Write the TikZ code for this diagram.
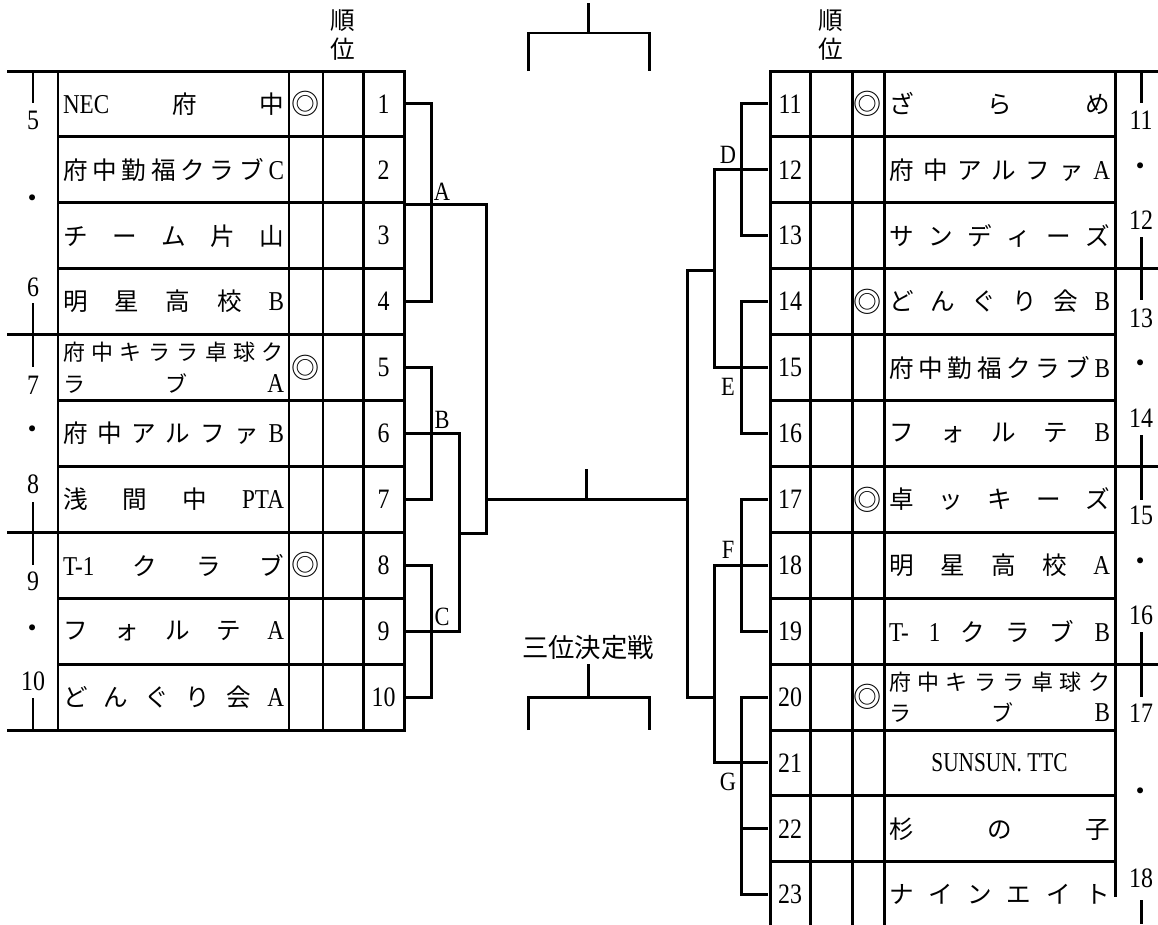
\documentclass[tikz,border=0pt]{standalone}
\usepackage{fontspec}
\setmainfont{Liberation Serif}[FakeStretch=0.85]
\newfontfamily\jp{Noto Sans CJK JP}
\usetikzlibrary{calc}

\newlength\namew
\setlength\namew{4.42cm}
% spread the items of a name evenly over the cell
\newcommand\spread[1]{\hbox to\namew{\foreach[count=\k] \c in {#1}{\ifnum\k>1 \hfill\fi\c}}}
\newcommand\lt[1]{{\rmfamily\fontsize{15.5}{16}\selectfont #1}}
\def\rh{65.9}

\begin{document}
\begin{tikzpicture}[x=0.02cm,y=-0.02cm,line width=1.7pt]
\tikzset{tabline/.style={line cap=rect},
         numcell/.style={inner sep=0,minimum width=41*0.02cm,minimum height=\rh*0.02cm,
                         font=\fontsize{16}{18}\selectfont},
         namecell/.style={inner sep=0,font=\jp\fontsize{14}{16}\selectfont},
         twoline/.style={namecell,align=left,font=\jp\fontsize{12.5}{18}\selectfont},
         markcell/.style={inner sep=0,font=\jp\fontsize{16}{18}\selectfont},
         rank/.style={inner sep=0,font=\fontsize{16}{18}\selectfont},
         grp/.style={inner sep=0,font=\fontsize{15}{16}\selectfont},
         head/.style={inner sep=1.5pt,align=center,font=\jp\fontsize{14}{16.5}\selectfont}}
\useasboundingbox (0,0) rectangle (1158,924);

% left table
\foreach \k/\xs in {0/8,1/58,2/58,3/58,4/8,5/58,6/58,7/8,8/58,9/58,10/8}
  \draw[tabline] (\xs,{71+\k*\rh}) -- (404,{71+\k*\rh});
\foreach \xx in {58,289,323,363,404}
  \draw[tabline] (\xx,71) -- (\xx,730);
\foreach \a/\b in {71/103,303/367,502/565,698/730}
  \draw (33,\a) -- (33,\b);
\foreach \t/\yy [count=\r] in {5/120,{\jp ・}/202,6/287,7/385,{\jp ・}/433,8/484,9/581,{\jp ・}/632,10/681}
  \node[rank] (ll\r) at (33,\yy) {\t};
\node[head] (hl) at (343,35.5) {順\\位};

% right table
\foreach \k/\xe in {0/1158,1/1115,2/1115,3/1158,4/1115,5/1115,6/1158,7/1115,8/1115,9/1158,10/1115,11/1115,12/1115}
  \draw[tabline] (770,{71+\k*\rh}) -- (\xe,{71+\k*\rh});
\foreach \xx in {770,810,852,884}
  \draw[tabline] (\xx,71) -- (\xx,924);
\draw[tabline] (1115,71) -- (1115,895);
\foreach \a/\b in {71/103,237/300,435/500,632/697,900/924}
  \draw (1141,\a) -- (1141,\b);
\foreach \t/\yy [count=\r] in {11/120,{\jp ・}/170,12/220,13/318,{\jp ・}/367,14/418,15/515,{\jp ・}/565,16/615,17/713,{\jp ・}/795,18/878}
  \node[rank] (rl\r) at (1141,\yy) {\t};
\node[head] (hr) at (831,35.5) {順\\位};

% numbers and marks
\foreach \i in {1,...,10}
  \node[numcell] (n\i) at (383.5,{71+(\i-0.5)*\rh}) {\i};
\foreach \i in {11,...,23}
  \node[numcell] (n\i) at (790,{71+(\i-10.5)*\rh}) {\i};
\coordinate (lmark) at (306,0);
\coordinate (rmark) at (868,0);
\foreach \i in {1,5,8}
  \node[markcell] (m\i) at (lmark |- n\i) {◎};
\foreach \i in {11,14,17,20}
  \node[markcell] (m\i) at (rmark |- n\i) {◎};

% team names
\coordinate (lname) at (173.5,0);
\coordinate (rname) at (999.5,0);
\node[namecell] (t1) at (lname |- n1) {\spread{\lt{NEC},府,中}};
\node[namecell] (t2) at (lname |- n2) {\spread{府,中,勤,福,ク,ラ,ブ,\lt{C}}};
\node[namecell] (t3) at (lname |- n3) {\spread{チ,ー,ム,片,山}};
\node[namecell] (t4) at (lname |- n4) {\spread{明,星,高,校,\lt{B}}};
\node[twoline] (t5) at (lname |- n5) {\spread{府,中,キ,ラ,ラ,卓,球,ク}\\\spread{ラ,ブ,\lt{A}}};
\node[namecell] (t6) at (lname |- n6) {\spread{府,中,ア,ル,フ,ァ,\lt{B}}};
\node[namecell] (t7) at (lname |- n7) {\spread{浅,間,中,\lt{PTA}}};
\node[namecell] (t8) at (lname |- n8) {\spread{\lt{T-1},ク,ラ,ブ}};
\node[namecell] (t9) at (lname |- n9) {\spread{フ,ォ,ル,テ,\lt{A}}};
\node[namecell] (t10) at (lname |- n10) {\spread{ど,ん,ぐ,り,会,\lt{A}}};
\node[namecell] (t11) at (rname |- n11) {\spread{ざ,ら,め}};
\node[namecell] (t12) at (rname |- n12) {\spread{府,中,ア,ル,フ,ァ,\lt{A}}};
\node[namecell] (t13) at (rname |- n13) {\spread{サ,ン,デ,ィ,ー,ズ}};
\node[namecell] (t14) at (rname |- n14) {\spread{ど,ん,ぐ,り,会,\lt{B}}};
\node[namecell] (t15) at (rname |- n15) {\spread{府,中,勤,福,ク,ラ,ブ,\lt{B}}};
\node[namecell] (t16) at (rname |- n16) {\spread{フ,ォ,ル,テ,\lt{B}}};
\node[namecell] (t17) at (rname |- n17) {\spread{卓,ッ,キ,ー,ズ}};
\node[namecell] (t18) at (rname |- n18) {\spread{明,星,高,校,\lt{A}}};
\node[namecell] (t19) at (rname |- n19) {\spread{\lt{T-},\lt{1},ク,ラ,ブ,\lt{B}}};
\node[twoline] (t20) at (rname |- n20) {\spread{府,中,キ,ラ,ラ,卓,球,ク}\\\spread{ラ,ブ,\lt{B}}};
\node[namecell] (t21) at (rname |- n21) {\lt{\scalebox{0.92}[1]{SUNSUN. TTC}}};
\node[namecell] (t22) at (rname |- n22) {\spread{杉,の,子}};
\node[namecell] (t23) at (rname |- n23) {\spread{ナ,イ,ン,エ,イ,ト}};

% left brackets
\draw (n1.east) -- ++(26,0) |- (n4.east);
\draw (n2.south east) -- ++(81,0) coordinate (wa) -- (wa |- n7.south) -- ++(-27,0);
\draw (n5.east) -- ++(26,0) |- (n7.east);
\draw (n6.east) -- ++(54,0) |- (n9.east);
\draw (n8.east) -- ++(26,0) |- (n10.east);
\node[grp] (ga) at (442,192) {A};
\node[grp] (gb) at (442,420) {B};
\node[grp] (gc) at (442,617) {C};

% right brackets
\draw (n11.west) -- ++(-27,0) |- (n13.west);
\draw (n12.west) -- ++(-54,0) coordinate (wd) |- (n15.west);
\draw (n14.west) -- ++(-27,0) |- (n16.west);
\draw (n17.west) -- ++(-27,0) |- (n19.west);
\draw (n18.west) -- ++(-54,0) |- (n21.west);
\draw (n20.west) -- ++(-27,0) |- (n23.west);
\draw (n22.west) -- ++(-27,0);
\draw (wd |- n13.south) -- ++(-27,0) coordinate (wr) -- (wr |- n20.west) -- ++(27,0);
\node[grp] (gd) at (728,155) {D};
\node[grp] (ge) at (728,387) {E};
\node[grp] (gf) at (728,550) {F};
\node[grp] (gg) at (728,782) {G};

% final and third place
\draw (wa |- n7.east) -- (wr |- n7.east);
\draw ($(wa |- n7.east)!0.5!(wr |- n7.east)$) -- ++(0,-30);
\draw (588,3) -- (588,33);
\draw (528,71) |- (649,33) -- (649,71);
\node[head,font=\jp\fontsize{15}{18}\selectfont] (third) at (588,648) {三位決定戦};
\draw (third.south) -- (588,697);
\draw (528,730) |- (649,697) -- (649,730);
\end{tikzpicture}
\end{document}
